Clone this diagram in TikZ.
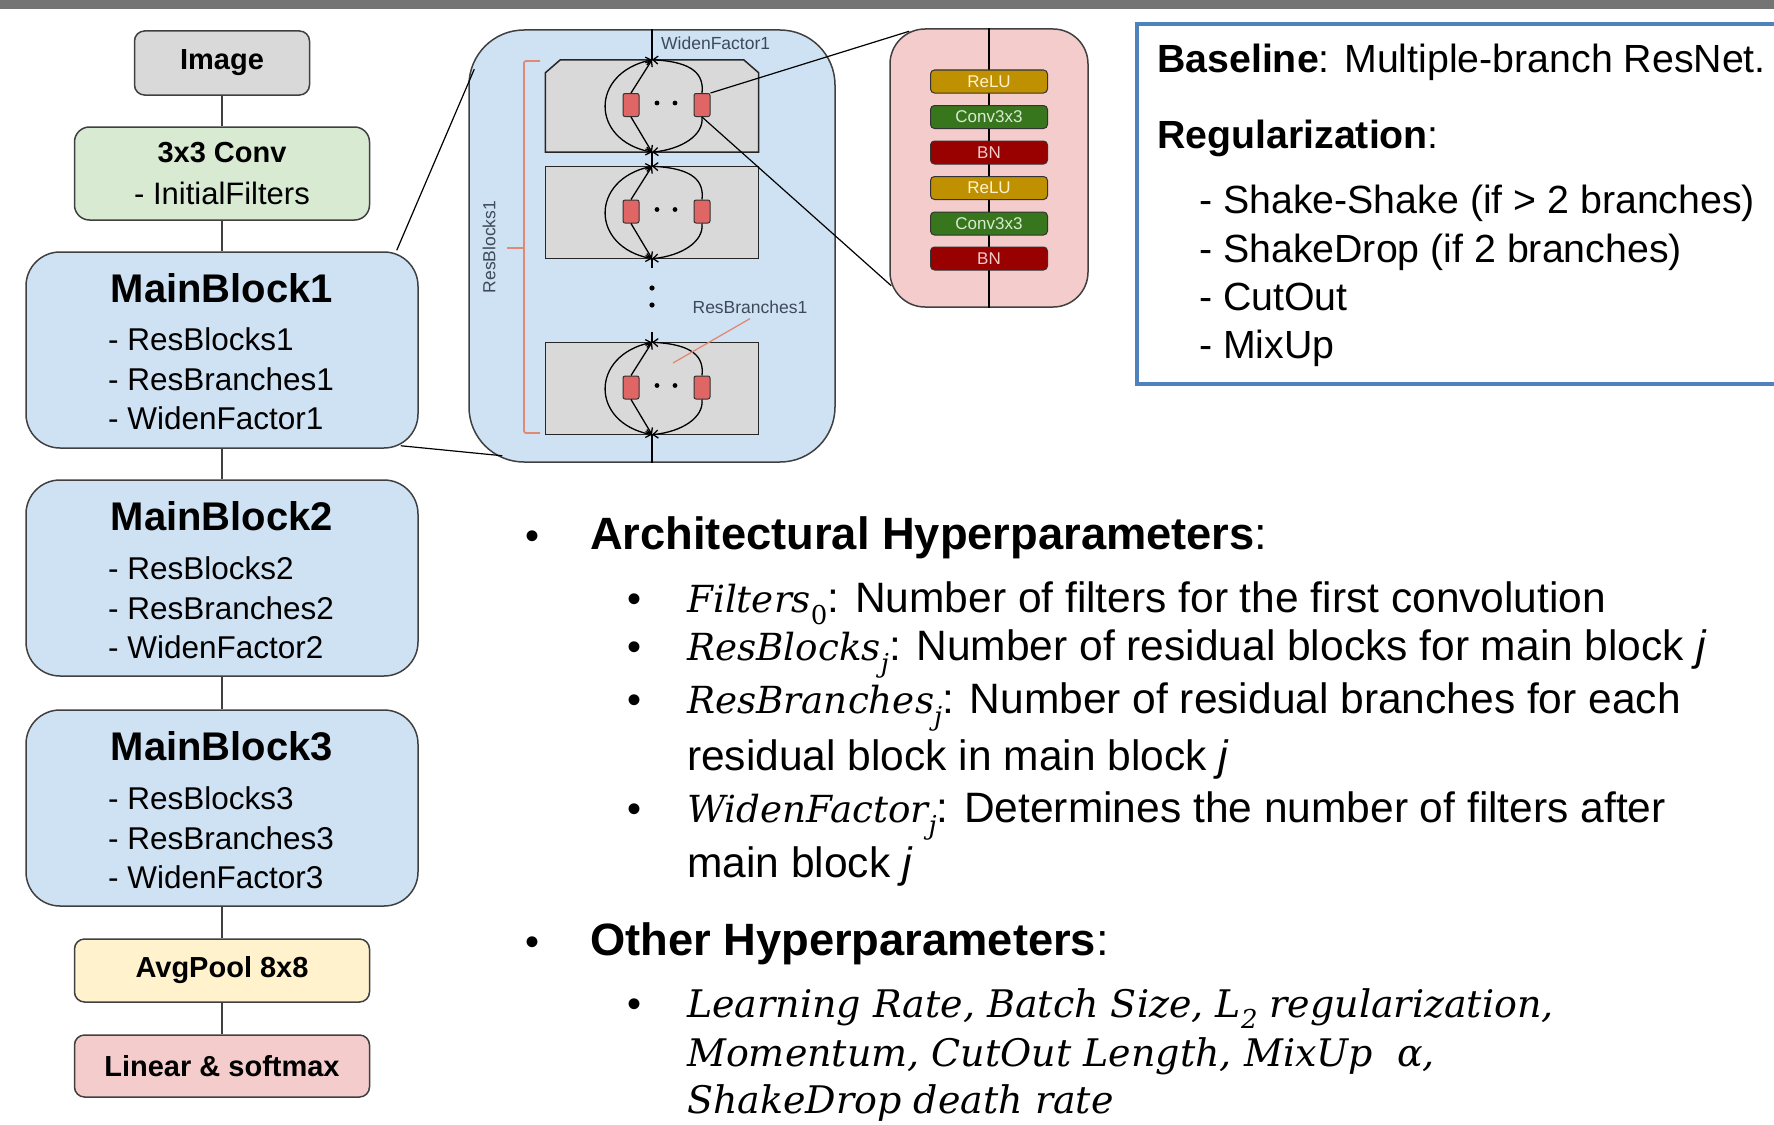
\documentclass[tikz,border=0pt]{standalone}
\usepackage{fontspec}
\setmainfont{Liberation Sans}
\newfontfamily\mathitfont{DejaVu Serif}
\usepackage{tikz}
\usetikzlibrary{arrows.meta,calc}

\newcommand{\setfs}[1]{\fontsize{#1}{#1}\selectfont}
\newcommand{\mvar}[1]{{\mathitfont\itshape\setfs{37.3}#1}}
\newcommand{\msub}[1]{\raisebox{-0.3em}{\mathitfont\fontsize{26}{26}\selectfont #1}}

\definecolor{boxgray}{HTML}{D9D9D9}
\definecolor{convgreen}{HTML}{D9EAD3}
\definecolor{blockblue}{HTML}{CFE2F3}
\definecolor{poolyellow}{HTML}{FFF2CC}
\definecolor{linpink}{HTML}{F4CCCC}
\definecolor{branchred}{HTML}{E06666}
\definecolor{salmon}{HTML}{E08A76}
\definecolor{edgegray}{HTML}{404040}
\definecolor{notegray}{HTML}{3D4A5A}
\definecolor{reluyellow}{HTML}{BF9000}
\definecolor{convdark}{HTML}{38761D}
\definecolor{bndark}{HTML}{990000}
\definecolor{frameblue}{HTML}{4F81BD}
\definecolor{topbar}{HTML}{747474}

\tikzset{
  flowbox/.style={draw=edgegray, line width=1.5pt, rounded corners=10pt, inner sep=0pt},
  smallbox/.style={flowbox, minimum width=295pt, font=\bfseries\setfs{29}},
  mainblock/.style={flowbox, fill=blockblue, rounded corners=34pt, minimum width=392pt, minimum height=196pt},
  blocktitle/.style={anchor=base, inner sep=0pt, font=\bfseries\setfs{40}},
  blockitem/.style={anchor=base west, inner sep=0pt, font=\setfs{31.5}},
  wire/.style={edgegray, line width=1.5pt},
  flow/.style={black, line width=1.3pt},
  blkline/.style={draw=black!85, fill=boxgray, line width=1.5pt},
  resblkbox/.style={minimum width=213pt, minimum height=92pt, inner sep=0pt},
  branch/.style={draw=black!80, fill=branchred, line width=1pt, rounded corners=2pt, minimum width=16pt, minimum height=23pt, inner sep=0pt},
  layer/.style={draw=black!80, line width=1pt, rounded corners=4pt, minimum width=117pt, minimum height=23pt, inner sep=0pt, font=\setfs{17}},
  note/.style={text=notegray, inner sep=0pt, font=\setfs{17.5}},
  salmonline/.style={salmon, line width=1.8pt},
  tipstart/.style={{Straight Barb[length=5pt,width=8pt]}-},
  tipend/.style={-{Straight Barb[length=5pt,width=8pt]}},
  tipboth/.style={{Straight Barb[length=5pt,width=8pt]}-{Straight Barb[length=5pt,width=8pt]}},
  boxtext/.style={anchor=base west, inner sep=0pt, font=\setfs{39.3}},
  headtext/.style={anchor=base west, inner sep=0pt, font=\bfseries\setfs{45.3}},
  subtext/.style={anchor=base west, inner sep=0pt, font=\setfs{42.5}},
  mathtext/.style={anchor=base west, inner sep=0pt, font=\mathitfont\itshape\setfs{38}},
  bulletmark/.style={anchor=base, inner sep=0pt, font=\setfs{40}}
}

\begin{document}
\begin{tikzpicture}[x=1pt,y=1pt,yscale=-1,xscale=1]
\useasboundingbox (0,0) rectangle (1774,1124);
\fill[white] (0,0) rectangle (1774,1124);
%Shape: Rectangle [top bar]
\fill[topbar] (0,0) rectangle (1774,9);

%Shape: Rounded Rectangle [Image]
\node[flowbox, fill=boxgray, minimum width=175pt, minimum height=64pt, font=\bfseries\setfs{29}] (img) at (222,63) {Image};
%Shape: Rounded Rectangle [3x3 Conv]
\node[flowbox, fill=convgreen, rounded corners=15pt, minimum width=295pt, minimum height=93pt] (conv) at (222,173.5) {};
% Text Node
\node[anchor=base, inner sep=0pt, font=\bfseries\setfs{29}] (convtitle) at (222,162) {3x3 Conv};
\node[anchor=base, inner sep=0pt, font=\setfs{31}] (convsub) at (222,204) {- InitialFilters};

%Shape: Rounded Rectangle [MainBlock1]
\node[mainblock] (mb1) at (222,350) {};
\node[blocktitle] (mb1t) at (222,302) {MainBlock1};
\node[blockitem] (mb1a) at (108,350) {- ResBlocks1};
\node[blockitem] (mb1b) at (108,390) {- ResBranches1};
\node[blockitem] (mb1c) at (108,429) {- WidenFactor1};

%Shape: Rounded Rectangle [MainBlock2]
\node[mainblock] (mb2) at (222,578) {};
\node[blocktitle] (mb2t) at (222,530) {MainBlock2};
\node[blockitem] (mb2a) at (108,579) {- ResBlocks2};
\node[blockitem] (mb2b) at (108,619) {- ResBranches2};
\node[blockitem] (mb2c) at (108,658) {- WidenFactor2};

%Shape: Rounded Rectangle [MainBlock3]
\node[mainblock] (mb3) at (222,808) {};
\node[blocktitle] (mb3t) at (222,760) {MainBlock3};
\node[blockitem] (mb3a) at (108,809) {- ResBlocks3};
\node[blockitem] (mb3b) at (108,849) {- ResBranches3};
\node[blockitem] (mb3c) at (108,888) {- WidenFactor3};

%Shape: Rounded Rectangle [AvgPool]
\node[smallbox, fill=poolyellow, minimum height=63pt] (pool) at (222,970.5) {AvgPool 8x8};
%Shape: Rounded Rectangle [Linear]
\node[smallbox, fill=linpink, minimum height=62pt] (lin) at (222,1066) {Linear \& softmax};

%Straight Lines [left column]
\draw[wire] (img) -- (conv);
\draw[wire] (conv) -- (mb1);
\draw[wire] (mb1) -- (mb2);
\draw[wire] (mb2) -- (mb3);
\draw[wire] (mb3) -- (pool);
\draw[wire] (pool) -- (lin);

%Shape: Rounded Rectangle [zoom of MainBlock1]
\node[flowbox, fill=blockblue, rounded corners=55pt, minimum width=366pt, minimum height=432pt] (zoomA) at (652,246) {};
%Straight Lines [zoom lines]
\draw[flow, line width=1.2pt] ($(mb1.north east)+(-22,-1)$) -- ($(zoomA.north west)+(6,40)$);
\draw[flow, line width=1.2pt] ($(mb1.south east)+(-18,-3)$) -- ($(zoomA.south west)+(34,-7)$);

%Shape: Rectangle [residual blocks]
\node[resblkbox] (rb1) at (652,106) {};
\node[resblkbox] (rb2) at (652,212.5) {};
\node[resblkbox] (rb3) at (652,388.5) {};
\draw[blkline] (rb1.south west) -- ($(rb1.north west)+(0,13)$) -- ($(rb1.north west)+(15,0)$) -- ($(rb1.north east)+(-15,0)$) -- ($(rb1.north east)+(0,13)$) -- (rb1.south east) -- cycle;
\draw[blkline] (rb2.north west) rectangle (rb2.south east);
\draw[blkline] (rb3.north west) rectangle (rb3.south east);

%Straight Lines [main path]
\coordinate (gapA) at (652,268);
\coordinate (gapB) at (652,332);
\draw[flow] (zoomA.north) -- (rb1.north);
\draw[flow] (rb1.south) -- (rb2.north);
\draw[flow] (rb2.south) -- (gapA);
\draw[flow] (gapB) -- (rb3.north);
\draw[flow] (rb3.south) -- (zoomA.south);
\fill (652,288) circle (2.6);
\fill (652,305) circle (2.6);

% branches inside each residual block
\foreach \i in {1,2,3} {
  \node[branch] (bl\i) at ($(rb\i.center)+(-21,-1)$) {};
  \node[branch] (br\i) at ($(rb\i.center)+(50,-1)$) {};
  \fill ($(rb\i.center)+(5,-3)$) circle (2.4);
  \fill ($(rb\i.center)+(23,-3)$) circle (2.4);
  \draw[flow, tipstart] (rb\i.north) -- (bl\i.north);
  \draw[flow, tipend] (bl\i.south) -- (rb\i.south);
  \draw[flow, tipboth] (rb\i.north) .. controls +(-62,13) and +(-62,-12) .. (rb\i.south);
  \draw[flow, tipstart] (rb\i.north) .. controls +(42,2) and +(2,-18) .. (br\i.north);
  \draw[flow, tipend] (br\i.south) .. controls +(2,18) and +(30,-3) .. (rb\i.south);
}

%Shape: Brace [ResBlocks1]
\draw[salmonline, rounded corners=2pt] (540,61) -- (524,61) -- (524,433) -- (540,433);
\draw[salmonline] (524,248) -- (507,248);
% Text Node
\node[note, rotate=90] (rbnote) at (489,247) {ResBlocks1};
\node[note, anchor=west] (wfnote) at (661,43) {WidenFactor1};
\node[note] (brnote) at (750,307) {ResBranches1};
\coordinate (brtip) at (673,363);
\draw[salmonline, line width=1.3pt] ($(brnote.south)+(0,5)$) -- (brtip);

%Shape: Rounded Rectangle [branch detail]
\node[flowbox, fill=linpink, rounded corners=35pt, minimum width=198pt, minimum height=278pt] (pinkA) at (989,168) {};
\draw[flow, line width=1.2pt] (br1.north east) -- ($(pinkA.north west)+(20,3)$);
\draw[flow, line width=1.2pt] (br1.south) -- ($(pinkA.south west)+(2,-22)$);
\draw[flow, line width=1.2pt] (pinkA.north) -- (pinkA.south);
\node[layer, fill=reluyellow, text=poolyellow] (relu1) at (989,81.5) {ReLU};
\node[layer, fill=convdark, text=convgreen] (cnv1) at (989,117) {Conv3x3};
\node[layer, fill=bndark, text=linpink] (bn1) at (989,152.5) {BN};
\node[layer, fill=reluyellow, text=poolyellow] (relu2) at (989,188) {ReLU};
\node[layer, fill=convdark, text=convgreen] (cnv2) at (989,223.5) {Conv3x3};
\node[layer, fill=bndark, text=linpink] (bn2) at (989,258.5) {BN};

%Shape: Rectangle [baseline box]
\node[draw=frameblue, line width=4pt, minimum width=700pt, minimum height=360pt, anchor=north west, inner sep=0pt] (basebox) at (1135,22) {};
\node[boxtext] (basetxt) at (1157,72) {\textbf{Baseline}: Multiple-branch ResNet.};
\node[boxtext] (regtxt) at (1157,148) {\textbf{Regularization}:};
\node[boxtext] (reg1) at (1199,213) {- Shake-Shake (if > 2 branches)};
\node[boxtext] (reg2) at (1199,262) {- ShakeDrop (if 2 branches)};
\node[boxtext] (reg3) at (1199,310) {- CutOut};
\node[boxtext] (reg4) at (1199,358) {- MixUp};

% Text Node [architectural hyperparameters]
\node[bulletmark] (archb) at (532,549) {\textbullet};
\node[headtext] (arch) at (590,549) {Architectural Hyperparameters\mdseries:};
\node[bulletmark] (filb) at (634,612) {\textbullet};
\node[subtext] (fil) at (687,612) {\mvar{Filters}\msub{0}: Number of filters for the first convolution};
\node[bulletmark] (rblb) at (634,660) {\textbullet};
\node[subtext] (rbl) at (687,660) {\mvar{ResBlocks}\msub{\itshape j}: Number of residual blocks for main block \textit{j}};
\node[bulletmark] (rbrb) at (634,713) {\textbullet};
\node[subtext] (rbr) at (687,713) {\mvar{ResBranches}\msub{\itshape j}: Number of residual branches for each};
\node[subtext] (rbr2) at (687,770) {residual block in main block \textit{j}};
\node[bulletmark] (wfb) at (634,822) {\textbullet};
\node[subtext] (wf) at (687,822) {\mvar{WidenFactor}\msub{\itshape j}: Determines the number of filters after};
\node[subtext] (wf2) at (687,877) {main block \textit{j}};

% Text Node [other hyperparameters]
\node[bulletmark] (othb) at (532,955) {\textbullet};
\node[headtext] (oth) at (590,955) {Other Hyperparameters\mdseries:};
\node[bulletmark] (lrb) at (634,1017) {\textbullet};
\node[mathtext] (lr1) at (687,1017) {Learning Rate, Batch Size, L\msub{2} regularization,};
\node[mathtext] (lr2) at (687,1066) {Momentum, CutOut Length, MixUp~~α,};
\node[mathtext] (lr3) at (687,1113) {ShakeDrop death rate};

\end{tikzpicture}
\end{document}
